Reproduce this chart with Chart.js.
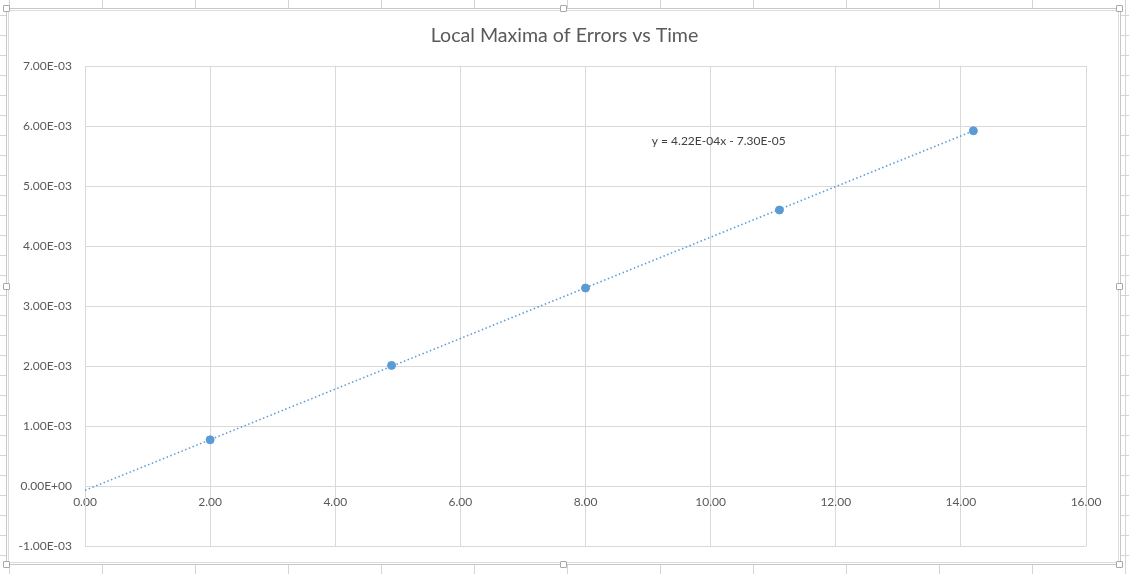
<!DOCTYPE html>
<html>
<head>
<meta charset="utf-8">
<script src="https://cdn.jsdelivr.net/npm/chart.js@4/dist/chart.umd.min.js"></script>
<style>
  html, body { margin: 0; padding: 0; width: 1129px; height: 574px; overflow: hidden; background: #fff; }
  #sheet {
    position: absolute; left: 0; top: 0; width: 1129px; height: 574px;
    background-image:
      linear-gradient(to right, #d4d4d4 1px, transparent 1px),
      linear-gradient(to bottom, #d4d4d4 1px, transparent 1px);
    background-size: 93px 100%, 100% 20px;
    background-position: 102px 0, 0 15px;
  }
  #frame {
    position: absolute; left: 6px; top: 8px; width: 1113px; height: 555px;
    background: #fff; border: 1px solid #c8c8c8;
    box-shadow: inset 0 0 0 1px #fff, inset 0 0 0 2px #dcdcdc;
  }
  .h { position: absolute; width: 5px; height: 5px; background: #fff; border: 1px solid #a8a8a8; border-radius: 1px; }
  #wrap { position: absolute; left: 0; top: 0; width: 1129px; height: 574px; }
</style>
</head>
<body>
<div id="sheet"></div>
<div id="frame"></div>
<div class="h" style="left:3px;top:5px"></div>
<div class="h" style="left:560px;top:5px"></div>
<div class="h" style="left:1116px;top:5px"></div>
<div class="h" style="left:3px;top:283px"></div>
<div class="h" style="left:1116px;top:283px"></div>
<div class="h" style="left:3px;top:561px"></div>
<div class="h" style="left:560px;top:561px"></div>
<div class="h" style="left:1116px;top:561px"></div>
<div id="wrap"><canvas id="c" width="1129" height="574"></canvas></div>
<script>
// ---- data ----
const timeValues = [2.0, 4.9, 8.0, 11.1, 14.2];
const errorMaxima = [0.00077, 0.00201, 0.00330, 0.00460, 0.00592];
const trendSlope = 4.22e-4;
const trendIntercept = -7.30e-5;
const trendRange = [0, 14.2];
const chartTitle = 'Local Maxima of Errors vs Time';
const equationLabel = 'y = 4.22E-04x - 7.30E-05';
const equationAt = { x: 9.06, y: 0.00575 };
const xTicks = [0, 2, 4, 6, 8, 10, 12, 14, 16];
const yTicks = [-0.001, 0, 0.001, 0.002, 0.003, 0.004, 0.005, 0.006, 0.007];

const FONT = 'Lato, "Open Sans", sans-serif';
const TEXT = '#595959';
const GRID = '#d9d9d9';
const BLUE = '#5b9bd5';

function sci(v) {
  if (Math.abs(v) < 1e-12) return '0.00E+00';
  const e = Math.floor(Math.log10(Math.abs(v)) + 1e-9);
  const m = v / Math.pow(10, e);
  const sign = e < 0 ? '-' : '+';
  const ea = Math.abs(e);
  return m.toFixed(2) + 'E' + sign + (ea < 10 ? '0' + ea : String(ea));
}

const scatterData = timeValues.map((t, i) => ({ x: t, y: errorMaxima[i] }));
const trendData = trendRange.map(t => ({ x: t, y: trendSlope * t + trendIntercept }));

const equationPlugin = {
  id: 'equation',
  afterDatasetsDraw(chart) {
    const { ctx, scales } = chart;
    ctx.save();
    ctx.font = '12px ' + FONT;
    ctx.fillStyle = '#404040';
    ctx.textAlign = 'left';
    ctx.textBaseline = 'middle';
    ctx.fillText(equationLabel, scales.x.getPixelForValue(equationAt.x), scales.y.getPixelForValue(equationAt.y));
    ctx.restore();
  }
};

new Chart(document.getElementById('c'), {
  type: 'scatter',
  data: {
    datasets: [
      {
        type: 'line',
        data: trendData,
        borderColor: BLUE,
        borderWidth: 1.5,
        borderDash: [1.5, 2.5],
        pointRadius: 0,
        fill: false,
        order: 2
      },
      {
        data: scatterData,
        backgroundColor: BLUE,
        borderColor: BLUE,
        pointRadius: 4,
        pointHoverRadius: 4,
        order: 1
      }
    ]
  },
  options: {
    responsive: false,
    animation: false,
    devicePixelRatio: 1,
    layout: { padding: { left: 0, right: 0, top: 0, bottom: 28 } },
    plugins: {
      legend: { display: false },
      tooltip: { enabled: false },
      title: {
        display: true,
        text: chartTitle,
        color: TEXT,
        font: { family: FONT, size: 19.6, weight: 'normal' },
        padding: { top: 23.5, bottom: 19 }
      }
    },
    scales: {
      x: {
        type: 'linear',
        position: { y: 0 },
        min: 0, max: 16,
        afterBuildTicks(s) { s.ticks = xTicks.map(v => ({ value: v })); },
        ticks: {
          color: TEXT, font: { family: FONT, size: 12 }, padding: 9,
          callback: v => v.toFixed(2)
        },
        grid: { color: GRID, drawTicks: false, lineWidth: 1 },
        border: { display: true, color: GRID }
      },
      y: {
        type: 'linear',
        min: -0.001, max: 0.007,
        afterBuildTicks(s) { s.ticks = yTicks.map(v => ({ value: v })); },
        afterFit(s) { s.width = 85; },
        ticks: {
          color: TEXT, font: { family: FONT, size: 12 }, padding: 13,
          callback: v => sci(v)
        },
        grid: { color: GRID, drawTicks: false, lineWidth: 1 },
        border: { display: true, color: GRID }
      },
      yRight: {
        type: 'linear',
        axis: 'y',
        position: 'right',
        min: -0.001, max: 0.007,
        afterFit(s) { s.width = 43; },
        ticks: { display: false },
        grid: { display: false, drawTicks: false },
        border: { display: false }
      }
    }
  },
  plugins: [equationPlugin]
});
</script>
</body>
</html>
